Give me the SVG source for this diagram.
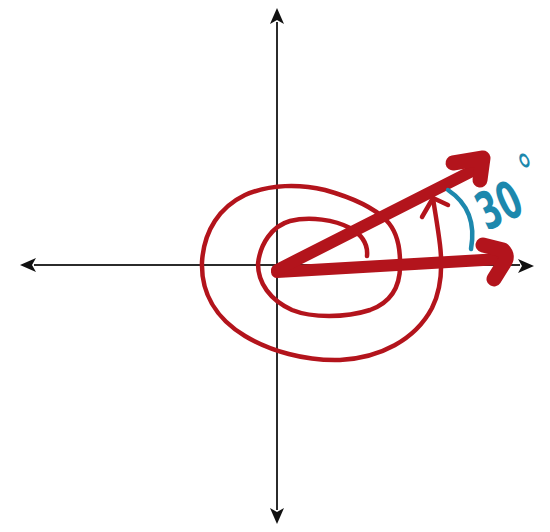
<svg xmlns="http://www.w3.org/2000/svg" width="550" height="532" viewBox="0 0 550 532">
<style>
.axis{stroke:#2b2b2b;stroke-width:2;fill:none}
.head{fill:#111}
.spiral{stroke:#b3141c;stroke-width:4.5;fill:none;stroke-linecap:round;stroke-linejoin:round}
.thick{stroke:#b3141c;stroke-width:12;fill:none;stroke-linecap:round;stroke-linejoin:round}
.tip{stroke:#b3141c;stroke-width:15;fill:none;stroke-linecap:round;stroke-linejoin:round}
.arc{stroke:#1d88ad;stroke-width:4.5;fill:none;stroke-linecap:round}
.lbl{fill:#1d88ad;font-family:"DejaVu Sans",sans-serif;font-size:52px;font-weight:bold}
</style>
<rect width="550" height="532" fill="#fff"/>
<g id="axes">
<line class="axis" x1="34" y1="265" x2="520" y2="265"/>
<line class="axis" x1="277" y1="22" x2="277" y2="510"/>
<path class="head" d="M20,265 L36,258 L32,265 L36,272 Z"/>
<path class="head" d="M534,266 L518,259 L522,266 L518,273 Z"/>
<path class="head" d="M277,8 L270,24 L277,20 L284,24 Z"/>
<path class="head" d="M277,524 L270,508 L277,512 L284,508 Z"/>
</g>
<g id="connectors">
<path id="spiral" class="spiral" d="M367,256 C368,246 364,236 350,228 C335,220 310,216 290,221 C272,226 260,244 258,264 C258,283 270,300 292,310 C312,318 345,318 370,310 C392,302 401,285 400,262 C400,245 396,230 386,220 C372,206 350,197 325,190 C300,184 270,184 245,195 C220,207 204,230 202,262 C201,292 215,318 245,336 C270,351 305,361 340,360 C380,358 415,340 432,308 C442,288 442,262 440,245 C438,228 435,212 433,198"/>
<path class="spiral" d="M422,217 L433,198 L448,205"/>
<line class="thick" x1="277" y1="272" x2="500" y2="259"/>
<line class="thick" x1="277" y1="270" x2="478" y2="168"/>
<path class="tip" d="M453,163 L483,158 L480,180"/>
<path class="tip" d="M483,245 L503,250 Q509,256 504,263 L494,279"/>
<path class="arc" d="M448,190 Q478,210 471,249"/>
</g>
<g id="label">
<text class="lbl" transform="translate(487,231) rotate(-25) scale(0.6,1)">30<tspan font-size="48" font-weight="normal" dx="22" dy="-20">°</tspan></text>
</g>
</svg>
